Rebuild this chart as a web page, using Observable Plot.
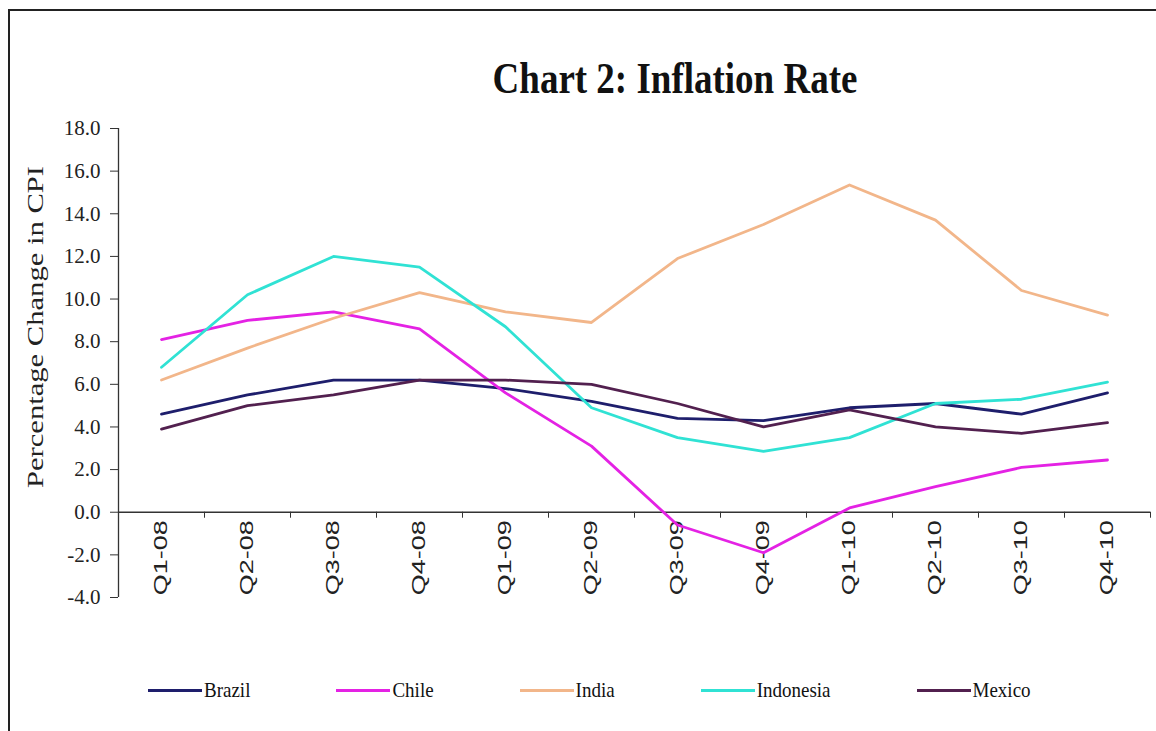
<!DOCTYPE html>
<html>
<head>
<meta charset="utf-8">
<script src="https://cdn.jsdelivr.net/npm/d3@7"></script>
<script src="https://cdn.jsdelivr.net/npm/@observablehq/plot@0.6"></script>
<style>
  html, body { margin: 0; padding: 0; background: #fff; }
  #frame { position: relative; width: 1156px; height: 731px; overflow: hidden; background: #fff; }
  #borderTop { position: absolute; left: 8px; top: 9px; width: 1148px; height: 2px; background: #222; }
  #borderLeft { position: absolute; left: 8px; top: 9px; width: 2px; height: 722px; background: #222; }
  #title { position: absolute; left: 0; top: 52px; width: 1350px; text-align: center;
           font-family: "Liberation Serif", "Times New Roman", serif; font-weight: bold; font-size: 37px;
           color: #111; transform: scaleY(1.2); transform-origin: center top; white-space: nowrap; }
  #chart { position: absolute; left: 0; top: 100px; }
  #legend { position: absolute; left: 148px; top: 679px; display: flex; gap: 86px; align-items: center;
            font-family: "Liberation Serif", "Times New Roman", serif; font-size: 19px; color: #111; }
  .item { display: flex; align-items: center; }
  .item span { display: inline-block; transform: scaleY(1.15); }
  .sw { width: 54px; height: 3px; margin-right: 2px; }
</style>
</head>
<body>
<div id="frame">
  <div id="borderTop"></div>
  <div id="borderLeft"></div>
  <div id="title">Chart 2: Inflation Rate</div>
  <div id="chart"></div>
  <div id="legend"></div>
</div>
<script>
const quarters = ["Q1-08","Q2-08","Q3-08","Q4-08","Q1-09","Q2-09","Q3-09","Q4-09","Q1-10","Q2-10","Q3-10","Q4-10"];
const countries = ["Brazil","Chile","India","Indonesia","Mexico"];
const brazil    = [4.6, 5.5, 6.2, 6.2, 5.8, 5.2, 4.4, 4.3, 4.9, 5.1, 4.6, 5.6];
const chile     = [8.1, 9.0, 9.4, 8.6, 5.6, 3.1, -0.6, -1.9, 0.2, 1.2, 2.1, 2.45];
const india     = [6.2, 7.7, 9.1, 10.3, 9.4, 8.9, 11.9, 13.5, 15.35, 13.7, 10.4, 9.25];
const indonesia = [6.8, 10.2, 12.0, 11.5, 8.7, 4.9, 3.5, 2.85, 3.5, 5.1, 5.3, 6.1];
const mexico    = [3.9, 5.0, 5.5, 6.2, 6.2, 6.0, 5.1, 4.0, 4.8, 4.0, 3.7, 4.2];
const colors    = ["#1e1e6c", "#e422e4", "#f2b68a", "#30e2d4", "#52204f"];
const yTicks    = [-4, -2, 0, 2, 4, 6, 8, 10, 12, 14, 16, 18];
const yTitle    = "Percentage Change in CPI";

const seriesValues = [brazil, chile, india, indonesia, mexico];
const rows = [];
countries.forEach((c, k) => seriesValues[k].forEach((v, i) => rows.push({country: c, q: i, value: v})));
const boundaries = d3.range(quarters.length + 1).map(i => i - 0.5);
const qIndex = quarters.map((q, i) => ({q: i, label: q}));

const chart = Plot.plot({
  width: 1156,
  height: 560,
  marginLeft: 118,
  marginRight: 6,
  marginTop: 28,
  marginBottom: 63,
  style: {fontFamily: "Liberation Serif, Times New Roman, serif", background: "transparent", color: "#222"},
  x: {type: "linear", domain: [-0.5, quarters.length - 0.5], axis: null},
  y: {domain: [-4, 18], axis: null},
  color: {domain: countries, range: colors},
  marks: [
    Plot.axisY({ticks: yTicks, tickFormat: d => d.toFixed(1), tickSize: 8, tickPadding: 10,
                fontSize: 21, label: null, stroke: "#333"}),
    Plot.text([yTitle], {frameAnchor: "left", rotate: -90, lineAnchor: "top", textAnchor: "middle",
                         dx: -92, dy: -36, fontSize: 23, fill: "#222"}),
    Plot.ruleX([-0.5], {stroke: "#333", strokeWidth: 1.3}),
    Plot.ruleY([0], {stroke: "#333", strokeWidth: 1.6}),
    Plot.ruleX(boundaries, {x: d => d, y1: 0, y2: 0, insetBottom: -6, stroke: "#333"}),
    Plot.text(qIndex, {x: "q", y: 0, text: "label", rotate: -90, textAnchor: "end", dy: 8,
                       fontFamily: "Liberation Sans, Arial, sans-serif", fontSize: 18, fill: "#222"}),
    Plot.lineY(rows, {x: "q", y: "value", z: "country", stroke: "country", strokeWidth: 2.8})
  ]
});
document.getElementById("chart").appendChild(chart);

function stretch(match, factor) {
  chart.querySelectorAll("text").forEach(el => {
    if (!match(el.textContent)) return;
    const len = el.getComputedTextLength();
    if (len > 0) {
      el.setAttribute("textLength", (len * factor).toFixed(1));
      el.setAttribute("lengthAdjust", "spacingAndGlyphs");
    }
  });
}
stretch(t => quarters.includes(t), 1.5);
stretch(t => t === yTitle, 1.33);

const legend = document.getElementById("legend");
countries.forEach((c, k) => {
  const item = document.createElement("div");
  item.className = "item";
  const sw = document.createElement("div");
  sw.className = "sw";
  sw.style.background = colors[k];
  const t = document.createElement("span");
  t.textContent = c;
  item.appendChild(sw);
  item.appendChild(t);
  legend.appendChild(item);
});
</script>
</body>
</html>
